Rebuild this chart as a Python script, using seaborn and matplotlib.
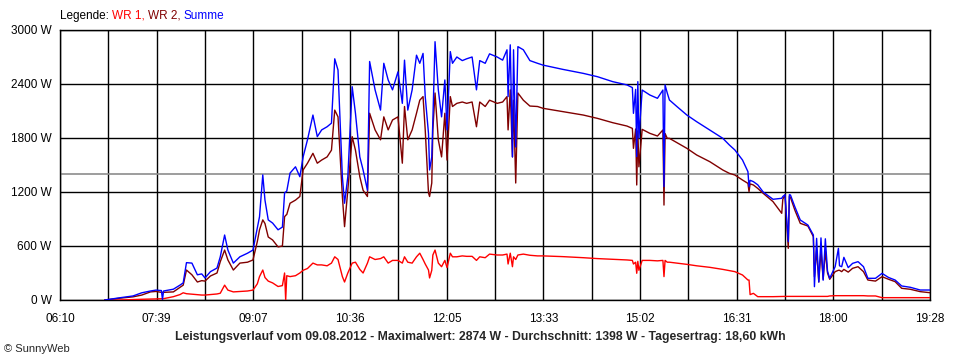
import numpy as np
import pandas as pd
import matplotlib
matplotlib.use("Agg")
import matplotlib.pyplot as plt
import seaborn as sns

sns.set_style("white")
plt.rcParams['font.family'] = ['Liberation Sans', 'DejaVu Sans']

# values (time, WR 1, WR 2, Summe in W)
times = [
    "06:51", "07:05", "07:17", "07:25", "07:33", "07:38", "07:43", "07:44", "07:45", "07:54",
    "08:00", "08:03", "08:06", "08:11", "08:16", "08:20", "08:23", "08:28", "08:34", "08:37",
    "08:41", "08:44", "08:49", "08:55", "09:02", "09:07", "09:11", "09:13", "09:16", "09:18",
    "09:21", "09:25", "09:30", "09:34", "09:36", "09:37", "09:38", "09:41", "09:46", "09:50",
    "09:53", "09:57", "10:02", "10:06", "10:10", "10:15", "10:19", "10:22", "10:25", "10:29",
    "10:31", "10:34", "10:38", "10:41", "10:45", "10:48", "10:52", "10:54", "10:59", "11:04",
    "11:07", "11:11", "11:15", "11:20", "11:24", "11:26", "11:29", "11:33", "11:37", "11:40",
    "11:43", "11:45", "11:48", "11:49", "11:51", "11:52", "11:54", "11:57", "12:00", "12:03",
    "12:05", "12:08", "12:10", "12:14", "12:19", "12:23", "12:28", "12:32", "12:35", "12:40",
    "12:44", "12:51", "12:56", "13:00", "13:01", "13:03", "13:05", "13:06", "13:08", "13:10",
    "13:15", "13:21", "13:28", "13:33", "13:51", "14:10", "14:23", "14:37", "14:50", "14:55",
    "14:56", "14:58", "14:59", "15:00", "15:01", "15:04", "15:11", "15:18", "15:23", "15:24",
    "15:25", "15:27", "15:29", "15:36", "15:45", "15:54", "16:06", "16:18", "16:24", "16:29",
    "16:36", "16:41", "16:42", "16:43", "16:46", "16:50", "16:55", "17:04", "17:12", "17:13",
    "17:15", "17:18", "17:19", "17:20", "17:24", "17:29", "17:36", "17:41", "17:42", "17:44",
    "17:46", "17:48", "17:50", "17:52", "17:54", "17:56", "18:01", "18:04", "18:05", "18:07",
    "18:09", "18:13", "18:17", "18:22", "18:27", "18:31", "18:38", "18:44", "18:50", "18:56",
    "19:02", "19:10", "19:19", "19:28",
]

wr1 = [
    0, 0, 5, 8, 10, 12, 15, 15, 15, 37,
    60, 80, 70, 65, 60, 55, 55, 60, 67, 75,
    165, 110, 90, 95, 100, 110, 180, 260, 333, 250,
    210, 190, 150, 160, 300, 0, 270, 260, 270, 300,
    330, 350, 410, 390, 390, 380, 410, 480, 450, 260,
    200, 300, 410, 420, 340, 300, 410, 480, 450, 460,
    480, 410, 440, 440, 410, 480, 420, 410, 480, 520,
    450, 400, 333, 245, 330, 500, 555, 410, 370, 440,
    360, 520, 480, 480, 490, 485, 485, 440, 480, 470,
    510, 500, 500, 510, 400, 520, 370, 480, 450, 500,
    510, 497, 490, 490, 482, 470, 460, 452, 445, 440,
    400, 420, 297, 430, 330, 440, 440, 435, 440, 260,
    440, 420, 420, 410, 396, 380, 363, 340, 326, 315,
    278, 222, 222, 60, 74, 37, 37, 37, 40, 40,
    40, 40, 40, 40, 40, 40, 40, 40, 40, 40,
    40, 40, 40, 40, 40, 45, 48, 48, 48, 48,
    48, 48, 48, 48, 48, 45, 45, 26, 26, 26,
    26, 26, 26, 26,
]

wr2 = [
    0, 20, 35, 55, 90, 95, 85, 85, 85, 90,
    140, 165, 333, 280, 200, 215, 210, 267, 300, 425,
    555, 445, 333, 410, 420, 445, 650, 780, 890, 850,
    700, 667, 590, 600, 925, 940, 950, 1075, 1110, 1150,
    1445, 1520, 1630, 1520, 1555, 1590, 1665, 2110, 2035, 1150,
    815, 1220, 1815, 1665, 1370, 1220, 1150, 2075, 1890, 1780,
    2035, 1890, 2000, 2035, 1520, 2150, 1780, 1890, 2075, 2220,
    2260, 1890, 1190, 1150, 1300, 1890, 2300, 1780, 1590, 2075,
    1555, 2260, 2150, 2185, 2200, 2185, 2200, 1925, 2200, 2150,
    2220, 2185, 2200, 2260, 1890, 2335, 1590, 2220, 1300, 2300,
    2220, 2155, 2150, 2130, 2093, 2055, 2018, 1970, 1933, 1907,
    1685, 1900, 1278, 1880, 1480, 1896, 1852, 1822, 1889, 1055,
    1850, 1796, 1796, 1748, 1685, 1611, 1537, 1444, 1407, 1389,
    1333, 1296, 1204, 1290, 1278, 1240, 1185, 1093, 963, 1120,
    1167, 574, 1150, 1140, 1000, 852, 822, 704, 259, 555,
    200, 550, 230, 540, 300, 230, 315, 330, 330, 315,
    340, 310, 352, 370, 315, 222, 210, 259, 230, 204,
    130, 119, 93, 81,
]

summe = [
    0, 25, 45, 80, 100, 110, 105, 5, 100, 120,
    165, 190, 415, 410, 280, 290, 245, 315, 355, 480,
    722, 555, 410, 480, 520, 555, 800, 925, 1390, 1110,
    890, 855, 780, 810, 1190, 1200, 1210, 1410, 1480, 1370,
    1590, 1780, 2055, 1815, 1890, 1925, 1965, 2680, 2555, 1370,
    1075, 1370, 2370, 2075, 1590, 1445, 1220, 2650, 2335, 2110,
    2630, 2445, 2335, 2535, 2185, 2665, 2110, 2335, 2720, 2630,
    2740, 2260, 1850, 1445, 1590, 2000, 2870, 2335, 2035, 2445,
    1890, 2760, 2630, 2700, 2660, 2680, 2700, 2335, 2660, 2630,
    2735, 2700, 2665, 2780, 2260, 2835, 1590, 2780, 1700, 2815,
    2780, 2660, 2630, 2610, 2563, 2518, 2481, 2426, 2390, 2360,
    2074, 2340, 1593, 2426, 1800, 2333, 2278, 2241, 2333, 1260,
    2390, 2300, 2222, 2148, 2055, 1981, 1889, 1796, 1722, 1667,
    1556, 1426, 1259, 1330, 1315, 1280, 1200, 1119, 1130, 1150,
    1170, 648, 1170, 1167, 1037, 889, 833, 722, 148, 685,
    200, 690, 220, 680, 320, 241, 370, 574, 380, 370,
    474, 360, 407, 426, 370, 241, 241, 296, 250, 222,
    156, 141, 111, 111,
]

x_labels = ["06:10", "07:39", "09:07", "10:36", "12:05", "13:33", "15:02", "16:31", "18:00", "19:28"]
y_values = [0, 600, 1200, 1800, 2400, 3000]
durchschnitt = 1398
title = ("Leistungsverlauf vom 09.08.2012 - Maximalwert: 2874 W - "
         "Durchschnitt: 1398 W - Tagesertrag: 18,60 kWh")


def to_min(s):
    h, m = s.split(":")
    return int(h) * 60 + int(m)


df = pd.DataFrame({
    "t": [to_min(s) for s in times],
    "WR 1": wr1,
    "WR 2": wr2,
    "Summe": summe,
})

colors = {"WR 1": "#ff0000", "WR 2": "#800000", "Summe": "#0000ff"}

fig = plt.figure(figsize=(9.6, 3.6), dpi=100)
ax = fig.add_axes([60 / 960, 60 / 360, 870 / 960, 270 / 360])

t0, t1 = to_min(x_labels[0]), to_min(x_labels[-1])
major = np.linspace(t0, t1, len(x_labels))
minor = (major[:-1] + major[1:]) / 2

ax.axhline(durchschnitt, color="#8c8c8c", lw=1.2, zorder=1)

for name in ["WR 1", "WR 2", "Summe"]:
    sns.lineplot(data=df, x="t", y=name, ax=ax, color=colors[name],
                 lw=1.0, estimator=None, zorder=3)

ax.set_xlim(t0, t1)
ax.set_ylim(0, 3000)
ax.set_xticks(major)
ax.set_xticks(minor, minor=True)
ax.set_xticklabels(x_labels)
ax.set_yticks(y_values)
ax.set_yticklabels([f"{v} W" for v in y_values])
ax.set_xlabel("")
ax.set_ylabel("")
ax.grid(True, which="both", axis="x", color="black", lw=1.0, zorder=0)
ax.grid(True, which="major", axis="y", color="black", lw=1.0, zorder=0)
ax.set_axisbelow(True)
for sp in ax.spines.values():
    sp.set_color("black")
    sp.set_linewidth(1.0)
ax.tick_params(axis="both", which="both", direction="out", length=4, width=1,
               color="black", labelsize=8.5, labelcolor="black")
ax.tick_params(axis="y", pad=2)
ax.tick_params(axis="x", pad=5)

# coloured legend line at the top
fig.canvas.draw()
renderer = fig.canvas.get_renderer()
x = 60
for txt, col in [("Legende: ", "black"), ("WR 1, ", colors["WR 1"]),
                 ("WR 2, ", colors["WR 2"]), ("Summe", colors["Summe"])]:
    t = fig.text(x / 960, 1 - 16 / 360, txt, color=col, fontsize=8.5, va="center", ha="left")
    x += t.get_window_extent(renderer).width

fig.text(480 / 960, 1 - 337 / 360, title, ha="center", va="center",
         fontsize=8.8, fontweight="bold")
fig.text(4 / 960, 1 - 349 / 360, "\u00a9 SunnyWeb", ha="left", va="center", fontsize=8)

fig.savefig("out.png", dpi=100)
